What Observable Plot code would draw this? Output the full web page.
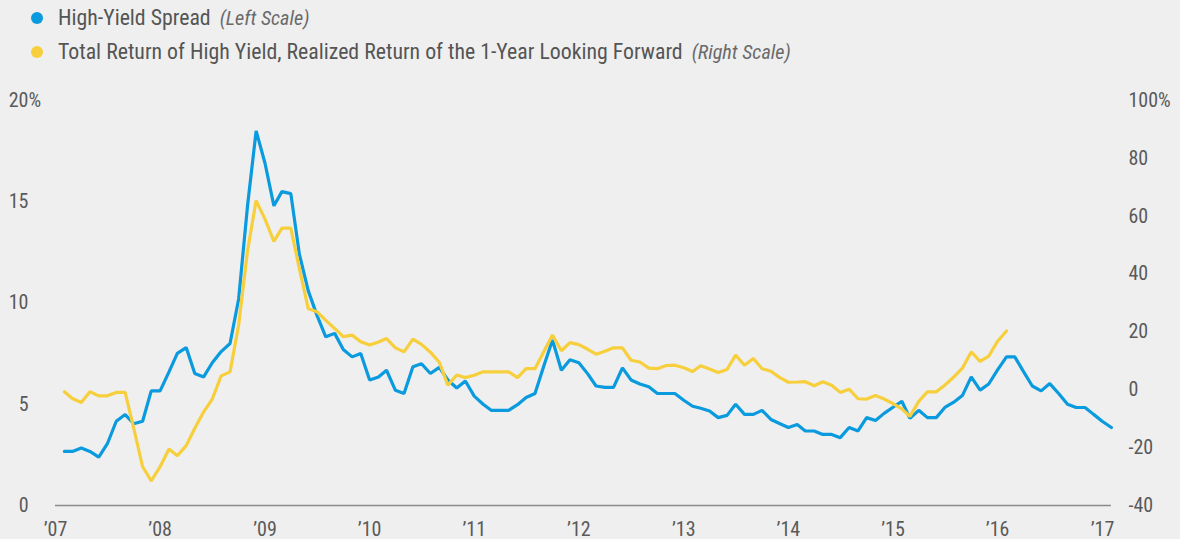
<!DOCTYPE html>
<html><head><meta charset="utf-8">
<script src="https://cdn.jsdelivr.net/npm/d3@7"></script>
<script src="https://cdn.jsdelivr.net/npm/@observablehq/plot@0.6"></script>
<style>
html,body{margin:0;padding:0;background:#efefef;}
body{font-family:"Liberation Sans Narrow","Arial Narrow","Roboto Condensed",sans-serif;color:#555;width:1180px;height:539px;overflow:hidden;}
#legend{height:70px;position:relative;}
.item{position:absolute;left:0;height:26px;line-height:26px;display:flex;align-items:center;font-size:21.8px;white-space:nowrap;}
.dot{width:12px;height:12px;border-radius:50%;margin-left:31px;margin-right:15px;flex:none;}
.note{font-style:italic;margin-left:9px;font-size:20.2px;color:#6a6a6a;}
</style></head><body>
<div id="legend">
  <div class="item" style="top:5px"><span class="dot" style="background:#0a9ade"></span>High-Yield Spread<span class="note">(Left Scale)</span></div>
  <div class="item" style="top:39px"><span class="dot" style="background:#f7cf3c"></span>Total Return of High Yield, Realized Return of the 1-Year Looking Forward<span class="note">(Right Scale)</span></div>
</div>
<div id="chart"></div>
<script>
// High-yield spread, % (left scale), monthly from Jan 2007 to Jan 2017
const spread = [
  2.67, 2.67, 2.84, 2.67, 2.39, 3.05, 4.16, 4.49, 4.04, 4.16, 5.66, 5.66,
  6.6, 7.51, 7.8, 6.52, 6.35, 7.05, 7.6, 8.0, 10.2, 14.8, 18.5, 16.9,
  14.8, 15.5, 15.4, 12.4, 10.6, 9.4, 8.33, 8.5, 7.7, 7.34, 7.51, 6.2,
  6.35, 6.68, 5.69, 5.53, 6.85, 7.0, 6.52, 6.82, 6.2, 5.8, 6.15, 5.4,
  5.0, 4.7, 4.7, 4.7, 4.98, 5.33, 5.53, 6.9, 8.17, 6.68, 7.2, 7.05,
  6.5, 5.9, 5.83, 5.83, 6.8, 6.2, 6.0, 5.86, 5.53, 5.53, 5.53, 5.2,
  4.9, 4.8, 4.67, 4.34, 4.45, 5.0, 4.5, 4.5, 4.7, 4.25, 4.05, 3.85,
  4.0, 3.68, 3.68, 3.51, 3.51, 3.35, 3.85, 3.68, 4.34, 4.2, 4.55, 4.85,
  5.15, 4.3, 4.7, 4.34, 4.34, 4.84, 5.1, 5.45, 6.35, 5.7, 6.0, 6.7,
  7.34, 7.34, 6.6, 5.9, 5.66, 6.02, 5.53, 5.0, 4.84, 4.84, 4.5, 4.15,
  3.85
];
// Realized 1-year forward total return, % (right scale), Jan 2007 to Jan 2016
const fwdReturn = [
  -0.7, -3.0, -4.4, -0.7, -2.1, -2.1, -0.9, -0.9, -13.3, -26.6, -31.5, -26.6,
  -20.5, -22.8, -19.3, -13.3, -7.6, -3.2, 4.8, 6.2, 22.3, 48, 65.4, 59,
  51.3, 55.9, 55.9, 41.8, 28.0, 27, 24.0, 21.2, 18.4, 18.9, 16.6, 15.5,
  16.5, 17.7, 14.5, 13.1, 17.5, 15.7, 13.0, 9.5, 1.6, 5.1, 4.2, 5.0,
  6.2, 6.2, 6.2, 6.2, 4.2, 7.3, 7.3, 13.2, 18.9, 13.5, 16.3, 15.6,
  14.0, 12.3, 13.3, 14.5, 14.5, 10.2, 9.6, 7.5, 7.3, 8.4, 8.5, 7.6,
  6.3, 8.3, 7.2, 6.0, 7.0, 12.0, 8.5, 10.8, 7.3, 6.4, 4.3, 2.6,
  2.7, 2.8, 1.4, 2.8, 1.6, -0.9, 0.2, -3.1, -3.2, -2.0, -3.2, -4.8,
  -6.6, -9.2, -4.0, -0.7, -0.7, 1.6, 4.4, 7.6, 13.1, 9.8, 11.6, 16.8,
  20.3
];
const leftTicks = [0, 5, 10, 15, 20];
const rightTicks = [-40, -20, 0, 20, 40, 60, 80, 100];
const yearTicks = d3.range(2007, 2018);

// month-end observations (plotted at the first day of the following month)
const monthDate = i => new Date(Date.UTC(2007, 1 + i, 1));
const spreadData = spread.map((v, i) => ({date: monthDate(i), v}));
const returnData = fwdReturn.map((v, i) => ({date: monthDate(i), v}));

// right scale (-40..100) mapped onto left scale (0..20)
const toLeft = v => (v + 40) / 7;
const fromLeft = d => Math.round(d * 7 - 40);
const fmt = v => (v < 0 ? "-" + (-v) : String(v));

const font = '"Liberation Sans Narrow","Arial Narrow","Roboto Condensed",sans-serif';
const chart = Plot.plot({
  width: 1180,
  height: 469,
  marginLeft: 55,
  marginRight: 78,
  marginTop: 30,
  marginBottom: 34,
  style: {background: "transparent", fontFamily: font, fontSize: "20px", color: "#5a5a5a", overflow: "visible"},
  x: {type: "utc", domain: [new Date(Date.UTC(2007, 0, 1)), new Date(Date.UTC(2017, 0, 1))]},
  y: {domain: [0, 20]},
  marks: [
    Plot.ruleY([0], {x1: new Date(Date.UTC(2007, 0, 1)), x2: spreadData[spreadData.length - 1].date, stroke: "#8a8a8a", strokeWidth: 1.5}),
    Plot.axisX(yearTicks.map(y => new Date(Date.UTC(y, 0, 1))), {tickSize: 0, tickPadding: 16, tickFormat: d => "\u2019" + String(d.getUTCFullYear()).slice(2), label: null}),
    Plot.axisY(leftTicks, {anchor: "left", tickSize: 0, tickPadding: 27, tickFormat: d => String(d), label: null}),
    Plot.text([20], {y: d => d, frameAnchor: "left", text: () => "%", dx: -27, textAnchor: "start", fill: "#5a5a5a", fontSize: 20}),
    Plot.axisY(rightTicks.map(toLeft), {anchor: "right", tickSize: 0, tickPadding: 26, tickFormat: d => { const v = fromLeft(d); return v === 100 ? "100%" : fmt(v); }, label: null}),
    Plot.line(spreadData, {x: "date", y: "v", stroke: "#0a9ade", strokeWidth: 3.2, strokeLinejoin: "miter"}),
    Plot.line(returnData, {x: "date", y: d => toLeft(d.v), stroke: "#f7cf3c", strokeWidth: 3.2, strokeLinejoin: "miter"})
  ]
});
document.getElementById("chart").appendChild(chart);
</script>
</body></html>
